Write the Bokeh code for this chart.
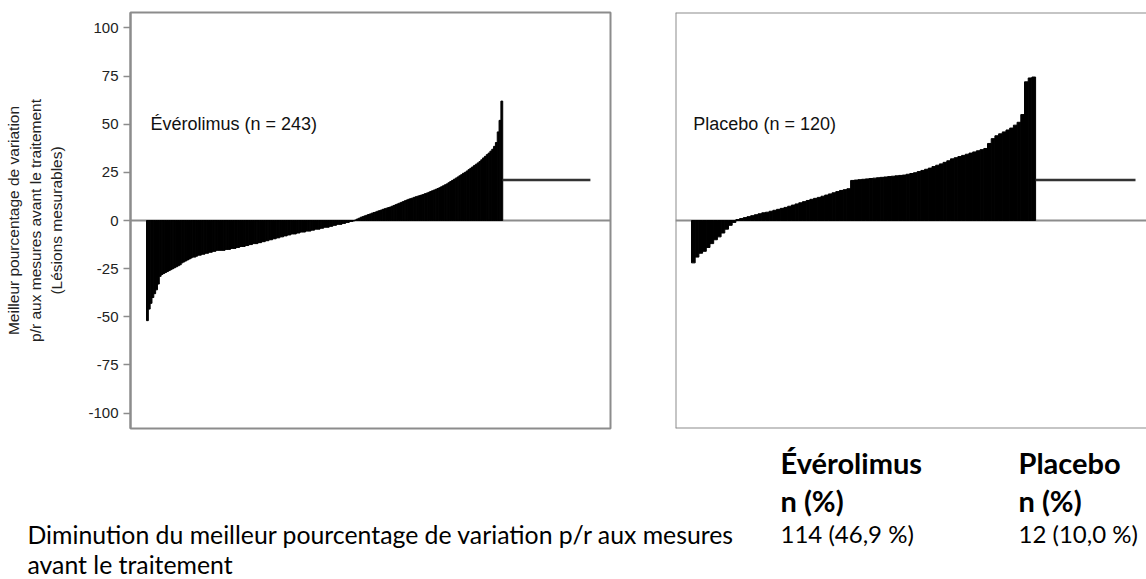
from bokeh.plotting import figure
from bokeh.models import Range1d, Span, FixedTicker, ColumnDataSource
from bokeh.layouts import column, row
from bokeh.embed import file_html
from bokeh.resources import INLINE
from bokeh.core.properties import value

# ---------------- data ----------------
everolimus_n = 243
everolimus_neg = [
    -52, -46, -43, -40, -38, -36, -33, -29, -28, -27.5,
    -27, -26.5, -26, -25.5, -25, -24.5, -24, -23.5, -23, -22,
    -21.5, -21, -20.5, -20, -19.5, -19, -19, -18.5, -18, -18,
    -17.5, -17.5, -17, -17, -16.5, -16.5, -16, -16, -15.5, -15.5,
    -15.5, -15.5, -15.5, -15, -15, -15, -14.5, -14.5, -14.5, -14,
    -14, -13.5, -13.5, -13.5, -13, -13, -12.5, -12.5, -12, -12,
    -12, -11.5, -11.5, -11, -11, -10.5, -10.5, -10, -10, -9.5,
    -9.5, -9, -9, -8.5, -8.5, -8, -8, -7.5, -7.5, -7,
    -7, -7, -6.5, -6.5, -6, -6, -6, -5.5, -5.5, -5.5,
    -5, -5, -4.5, -4.5, -4.5, -4, -4, -3.5, -3.5, -3.5,
    -3, -3, -2.5, -2.5, -2, -2, -2, -1.5, -1.5, -1,
    -1, -0.5, -0.5, -0.2,
]
everolimus_pos = [
    0.3, 0.8, 1.2, 1.7, 2.0, 2.4, 2.7, 3.1, 3.4, 3.8,
    4.1, 4.4, 4.8, 5.1, 5.4, 5.8, 6.1, 6.4, 6.7, 7.0,
    7.4, 7.8, 8.2, 8.6, 9.0, 9.4, 9.8, 10.2, 10.6, 11.0,
    11.3, 11.6, 12.0, 12.3, 12.6, 12.9, 13.2, 13.5, 13.9, 14.2,
    14.6, 15.0, 15.4, 15.8, 16.2, 16.6, 17.0, 17.5, 18.0, 18.5,
    19.0, 19.6, 20.2, 20.8, 21.4, 22.0, 22.6, 23.2, 23.8, 24.5,
    25.0, 25.7, 26.4, 27.1, 27.8, 28.5, 29.2, 29.9, 30.6, 31.5,
    32.5, 33.3, 34.2, 35.0, 36.0, 37.0, 38.5, 40.5, 46.0, 52.0,
    62.0,
]
everolimus_values = everolimus_neg + everolimus_pos

placebo_n = 120
placebo_values = [
    -22, -19, -17, -16, -14, -12, -10, -8.5, -6.5, -4.5, -2.5, -1.0,
    0.5, 1.0, 1.5, 2.0, 2.5, 3.0, 3.5, 4.0,
    4.3, 4.8, 5.3, 5.8, 6.3, 6.8, 7.4, 8.0, 8.6, 9.2,
    9.8, 10.4, 11.0, 11.5, 12.0, 12.6, 13.2, 13.8, 14.4, 15.0,
    15.6, 16.0, 16.5, 20.8, 21.0, 21.2, 21.4, 21.6, 21.8, 22.0,
    22.2, 22.4, 22.6, 22.8, 23.0, 23.2, 23.4, 23.6, 24.0, 24.4,
    24.8, 25.4, 26.0, 26.6, 27.2, 28.0, 28.7, 29.4, 30.2, 31.0,
    32.0, 32.6, 33.2, 33.8, 34.4, 35.0, 35.6, 36.2, 36.8, 37.4,
    40.0, 42.5, 44.0, 45.0, 46.0, 47.0, 48.0, 49.5, 51.0, 55.0,
    72.0, 74.0, 74.5,
]

line_level = 21
y_ticks = [-100, -75, -50, -25, 0, 25, 50, 75, 100]
y_tick_labels = ["-100", "-75", "-50", "-25", "0", "25", "50", "75", "100"]
panel_labels = ["Évérolimus (n = 243)", "Placebo (n = 120)"]
y_axis_title = "Meilleur pourcentage de variation\np/r aux mesures avant le traitement\n(Lésions mesurables)"

table_headers = ["Évérolimus", "Placebo"]
table_subheaders = ["n (%)", "n (%)"]
table_values = ["114 (46,9 %)", "12 (10,0 %)"]
row_label_lines = ["Diminution du meilleur pourcentage de variation p/r aux mesures",
                   "avant le traitement"]

# ---------------- styling ----------------
FRAME = "#8c8c8c"
CHART_FONT = "Liberation Sans"
TABLE_FONT = "Lato"
TOP_H = 432


def make_panel(vals, n, x_range, width, left_b, right_b, label, label_x, with_axis):
    p = figure(width=width, height=TOP_H, x_range=Range1d(*x_range),
               y_range=Range1d(-108, 108), output_backend="svg",
               toolbar_location=None, x_axis_location=None,
               y_axis_location="left" if with_axis else None,
               min_border_left=left_b, min_border_right=right_b,
               min_border_top=12, min_border_bottom=4)
    p.grid.visible = False
    p.background_fill_color = "white"
    p.border_fill_color = "white"
    p.add_layout(Span(location=0, dimension="width", line_color=FRAME,
                      line_width=2, level="underlay"))
    src = ColumnDataSource(dict(x=[i + 0.5 for i in range(len(vals))], top=vals))
    p.vbar(x="x", top="top", bottom=0, width=1, source=src,
           fill_color="black", line_color="black", line_width=1)
    p.segment(x0=[len(vals)], y0=[line_level], x1=[n], y1=[line_level],
              line_color="#333333", line_width=2.5)
    p.text(x=[label_x], y=[50], text=[label], text_font=value(CHART_FONT),
           text_font_size="18px", text_color="#111111",
           text_baseline="middle", text_align="left")
    return p


left = make_panel(everolimus_values, everolimus_n, (-8.76, 254.0), 638, 130, 28,
                  panel_labels[0], 2.2, True)
left.outline_line_color = FRAME
left.outline_line_width = 2
ax = left.yaxis[0]
ax.ticker = FixedTicker(ticks=y_ticks)
ax.major_label_overrides = dict(zip(y_ticks, y_tick_labels))
ax.major_tick_out = 7
ax.major_tick_in = 0
ax.minor_tick_out = 0
ax.minor_tick_in = 0
ax.axis_line_color = FRAME
ax.axis_line_width = 2
ax.major_tick_line_color = FRAME
ax.major_tick_line_width = 1.5
ax.major_label_text_font = CHART_FONT
ax.major_label_text_font_size = "15px"
ax.major_label_text_color = "#222222"
ax.major_label_standoff = 5
ax.axis_label = y_axis_title
ax.axis_label_text_font = CHART_FONT
ax.axis_label_text_font_style = "normal"
ax.axis_label_text_font_size = "15.5px"
ax.axis_label_text_color = "#222222"
ax.axis_label_text_line_height = 1.28
ax.axis_label_standoff = 20

right_xr = (-4.32, 122.97)
right = make_panel(placebo_values, placebo_n, right_xr, 508, 37, 0,
                   panel_labels[1], 0.5, False)
right.outline_line_color = None
for loc, dim in [(108, "width"), (-108, "width"), (right_xr[0], "height")]:
    right.add_layout(Span(location=loc, dimension=dim, line_color=FRAME, line_width=2))

# ---------------- table (text) ----------------
tab = figure(width=1146, height=147, x_range=Range1d(0, 1146), y_range=Range1d(579, 432),
             output_backend="svg", toolbar_location=None,
             x_axis_location=None, y_axis_location=None,
             min_border=0, min_border_left=0, min_border_right=0,
             min_border_top=0, min_border_bottom=0)
tab.grid.visible = False
tab.outline_line_color = None
tab.background_fill_color = "white"
tab.border_fill_color = "white"

col_x = [780, 1018]
tab.text(x=col_x, y=[462, 462], text=table_headers, text_font=value(TABLE_FONT),
         text_font_style="bold", text_font_size="29px", text_color="black",
         text_baseline="alphabetic")
tab.text(x=col_x, y=[500, 500], text=table_subheaders, text_font=value(TABLE_FONT),
         text_font_style="bold", text_font_size="29px", text_color="black",
         text_baseline="alphabetic")
tab.text(x=col_x, y=[533, 533], text=table_values, text_font=value(TABLE_FONT),
         text_font_size="24px", text_color="black", text_baseline="alphabetic")
tab.text(x=[27, 27], y=[534, 564], text=row_label_lines, text_font=value(TABLE_FONT),
         text_font_size="24.8px", text_color="black", text_baseline="alphabetic")

layout = column(row(left, right), tab)
open("out.html", "w").write(file_html(layout, INLINE))
